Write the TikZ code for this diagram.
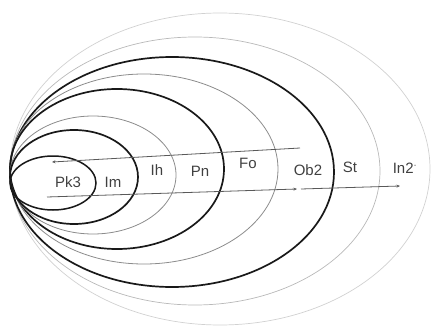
\documentclass[tikz,border=0pt]{standalone}
\usepackage{fontspec}
\setmainfont{Liberation Sans}
\usepackage{xcolor}
\usetikzlibrary{arrows.meta, positioning, calc}

\begin{document}
\begin{tikzpicture}[x=1pt, y=-1pt, font=\fontsize{15}{17}\selectfont, >={Stealth[length=3.5pt, width=3pt]},
  heavy/.style={draw=black!90, line width=1.7pt},
  light/.style={draw=black!45, line width=0.8pt},
  faint/.style={draw=black!28, line width=0.7pt},
  fainter/.style={draw=black!18, line width=0.7pt},
  lbl/.style={inner sep=1pt, text=black!75},
  flow/.style={draw=black!65, line width=0.8pt, ->}]
  \useasboundingbox (0,0) rectangle (432,332);

  % nested zones, all touching at the left
  \draw[fainter] (220,169) ellipse [x radius=210pt, y radius=156pt];
  \draw[faint]   (195,171) ellipse [x radius=185pt, y radius=134pt];
  \draw[heavy]   (172,172) ellipse [x radius=162pt, y radius=115pt];
  \draw[light]   (144,169) ellipse [x radius=134pt, y radius=95pt];
  \draw[heavy]   (117,169) ellipse [x radius=107pt, y radius=80pt];
  \draw[light]   (93,175)  ellipse [x radius=83pt,  y radius=59pt];
  \draw[heavy]   (74,177)  ellipse [x radius=64pt,  y radius=47pt];
  \draw[heavy, line width=1.5pt] (53,183) ellipse [x radius=43pt, y radius=27pt];

  \node[lbl] (pk3) at (68,182)  {Pk3};
  \node[lbl] (im)  at (113,182) {Im};
  \node[lbl] (ih)  at (157,170) {Ih};
  \node[lbl] (pn)  at (200,171) {Pn};
  \node[lbl] (fo)  at (248,163) {Fo};
  \node[lbl] (ob)  at (308,170) {Ob2};
  \node[lbl] (st)  at (350,167) {St};
  \node[lbl] (in)  at (405,168) {In2\textsuperscript{$\cdot$}};

  \coordinate (topR) at (300,148);
  \coordinate (topL) at (52,162);
  \coordinate (botL) at (47,197);
  \coordinate (botM) at (297,189);
  \coordinate (botN) at (301,189);
  \coordinate (botR) at (400,186);

  \draw[flow] (topR) -- (topL);
  \draw[flow] (botL) -- (botM);
  \draw[flow] (botN) -- (botR);
\end{tikzpicture}
\end{document}
